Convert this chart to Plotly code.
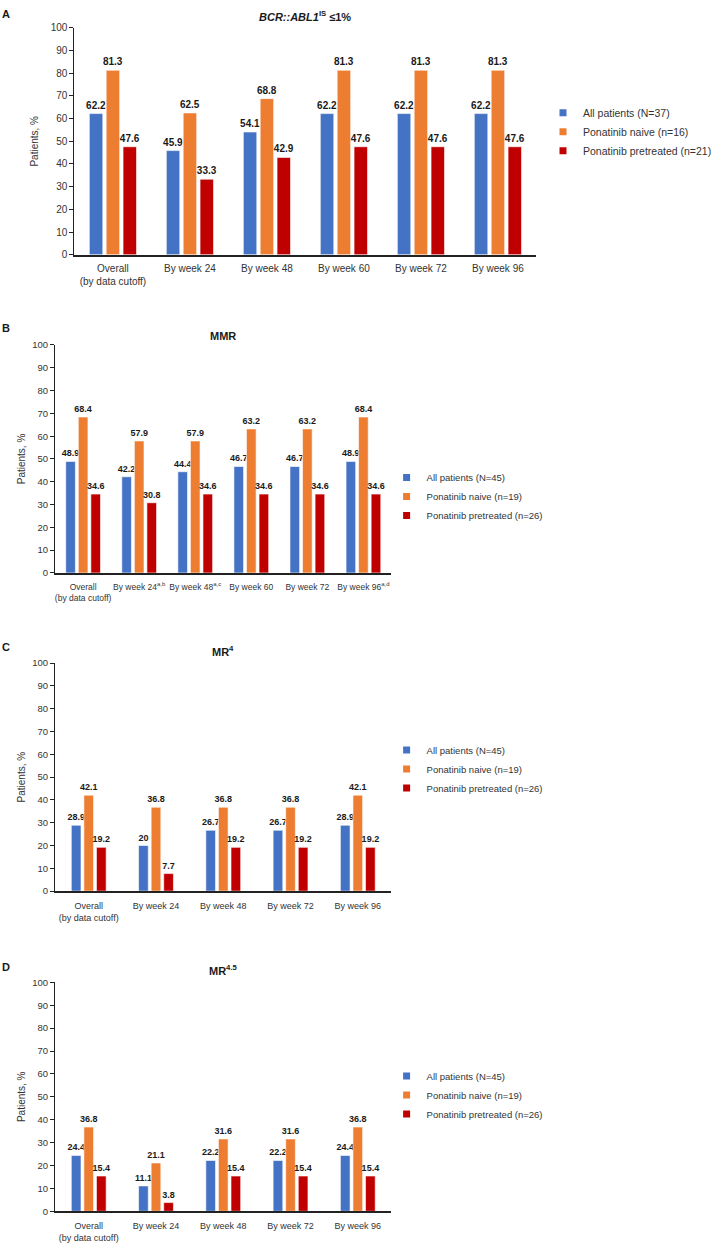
import plotly.graph_objects as go

W, H = 717, 1249

# ---------------- data ----------------
series_names_A = ["All patients (N=37)", "Ponatinib naive (n=16)", "Ponatinib pretreated (n=21)"]
series_names_BCD = ["All patients (N=45)", "Ponatinib naive (n=19)", "Ponatinib pretreated (n=26)"]

cats_A = ["Overall<br>(by data cutoff)", "By week 24", "By week 48", "By week 60", "By week 72", "By week 96"]
A_all = [62.2, 45.9, 54.1, 62.2, 62.2, 62.2]
A_naive = [81.3, 62.5, 68.8, 81.3, 81.3, 81.3]
A_pre = [47.6, 33.3, 42.9, 47.6, 47.6, 47.6]

cats_B = ["Overall<br>(by data cutoff)", "By week 24<sup>a,b</sup>", "By week 48<sup>a,c</sup>",
          "By week 60", "By week 72", "By week 96<sup>a,d</sup>"]
B_all = [48.9, 42.2, 44.4, 46.7, 46.7, 48.9]
B_naive = [68.4, 57.9, 57.9, 63.2, 63.2, 68.4]
B_pre = [34.6, 30.8, 34.6, 34.6, 34.6, 34.6]

cats_C = ["Overall<br>(by data cutoff)", "By week 24", "By week 48", "By week 72", "By week 96"]
C_all = [28.9, 20, 26.7, 26.7, 28.9]
C_naive = [42.1, 36.8, 36.8, 36.8, 42.1]
C_pre = [19.2, 7.7, 19.2, 19.2, 19.2]

cats_D = ["Overall<br>(by data cutoff)", "By week 24", "By week 48", "By week 72", "By week 96"]
D_all = [24.4, 11.1, 22.2, 22.2, 24.4]
D_naive = [36.8, 21.1, 31.6, 31.6, 36.8]
D_pre = [15.4, 3.8, 15.4, 15.4, 15.4]

colors = ["#4472C4", "#ED7D31", "#C00000"]

FONT = "Liberation Sans, Arial, sans-serif"
AXIS = "#222222"

# panel geometry in pixels
panels = [
    dict(key="A", title="<b><i>BCR::ABL1</i><sup>IS</sup> ≤1%</b>", cats=cats_A,
         vals=[A_all, A_naive, A_pre], names=series_names_A, fs=10, xfs=10, yfs=10,
         x0=77, x1=555, yt=22, yb=251, title_y=1, title_anchor="top",
         label_y=0, label_anchor="top",
         leg_x=562, leg_y=93, barw=0.175, step=0.219, standoff=10, xtl=3),
    dict(key="B", title="<b>MMR</b>", cats=cats_B,
         vals=[B_all, B_naive, B_pre], names=series_names_BCD, fs=9, xfs=8.5, yfs=9.5,
         x0=57, x1=405, yt=342, yb=572, title_y=333, title_anchor="middle",
         label_y=325, label_anchor="middle",
         leg_x=400, leg_y=461, barw=0.172, step=0.224, standoff=4, xtl=5),
    dict(key="C", title="<b>MR<sup>4</sup></b>", cats=cats_C,
         vals=[C_all, C_naive, C_pre], names=series_names_BCD, fs=9, xfs=9, yfs=9.5,
         x0=57, x1=405, yt=663, yb=893, title_y=651, title_anchor="middle",
         label_y=647, label_anchor="middle",
         leg_x=400, leg_y=736, barw=0.144, step=0.187, standoff=4, xtl=5),
    dict(key="D", title="<b>MR<sup>4.5</sup></b>", cats=cats_D,
         vals=[D_all, D_naive, D_pre], names=series_names_BCD, fs=9, xfs=9, yfs=9.5,
         x0=57, x1=405, yt=985, yb=1216, title_y=973, title_anchor="middle",
         label_y=970, label_anchor="middle",
         leg_x=400, leg_y=1065, barw=0.144, step=0.187, standoff=4, xtl=5),
]

def px_x(p):
    return p / W

def px_y(p):
    return 1 - p / H

fig = go.Figure()
layout = {}
annotations = []

for i, p in enumerate(panels):
    n = i + 1
    xa = "x" if n == 1 else f"x{n}"
    ya = "y" if n == 1 else f"y{n}"
    leg = "legend" if n == 1 else f"legend{n}"
    fs = p["fs"]
    for j in range(3):
        off = (j - 1) * p["step"] - p["barw"] / 2
        fig.add_trace(go.Bar(
            x=p["cats"], y=p["vals"][j], name=p["names"][j],
            marker=dict(color=colors[j], line=dict(color="white", width=0.6)),
            width=p["barw"], offset=off,
            text=p["vals"][j], texttemplate="<b>%{y}</b>", textposition="outside",
            constraintext="none",
            textfont=dict(family=FONT, size=fs, color="#1a1a1a"),
            cliponaxis=False,
            xaxis=xa, yaxis=ya, showlegend=False,
        ))
    # legend-only entries with small square swatches
    for j in range(3):
        fig.add_trace(go.Scatter(
            x=[p["cats"][0]], y=[None], mode="markers", name=p["names"][j],
            marker=dict(symbol="square", size=7, color=colors[j]),
            xaxis=xa, yaxis=ya, legend=leg, showlegend=True, hoverinfo="skip",
        ))
    xk = "xaxis" if n == 1 else f"xaxis{n}"
    yk = "yaxis" if n == 1 else f"yaxis{n}"
    layout[xk] = dict(
        domain=[px_x(p["x0"]), px_x(p["x1"])], anchor=ya, type="category",
        showline=True, linecolor=AXIS, linewidth=1.8,
        ticks="outside", ticklen=p["xtl"], tickcolor="rgba(0,0,0,0)",
        showgrid=False, zeroline=False, tickangle=0,
        tickfont=dict(family=FONT, size=p["xfs"], color="#333333"),
    )
    layout[yk] = dict(
        domain=[px_y(p["yb"]), px_y(p["yt"])], anchor=xa, range=[0, 100],
        dtick=10, showline=True, linecolor=AXIS, linewidth=1.2,
        ticks="outside", ticklen=4, tickcolor=AXIS,
        showgrid=False, zeroline=False,
        tickfont=dict(family=FONT, size=p["yfs"], color="#333333"),
        title=dict(text="Patients, %", font=dict(family=FONT, size=10, color="#333333"),
                   standoff=p["standoff"]),
    )
    layout[leg] = dict(
        x=px_x(p["leg_x"]), y=px_y(p["leg_y"]), xanchor="left", yanchor="top",
        font=dict(family=FONT, size=fs + 0.5, color="#333333"),
        bgcolor="rgba(0,0,0,0)", itemclick=False, tracegroupgap=0,
    )
    annotations.append(dict(
        text=p["title"], x=px_x((p["x0"] + p["x1"]) / 2), y=px_y(p["title_y"]),
        xref="paper", yref="paper", showarrow=False, xanchor="center",
        yanchor=p["title_anchor"],
        font=dict(family=FONT, size=11, color="#1a1a1a"),
    ))
    annotations.append(dict(
        text=f"<b>{p['key']}</b>", x=px_x(0), y=px_y(p["label_y"]),
        xref="paper", yref="paper", showarrow=False, xanchor="left",
        yanchor=p["label_anchor"],
        font=dict(family=FONT, size=11, color="#1a1a1a"),
    ))

fig.update_layout(
    width=W, height=H,
    margin=dict(l=0, r=0, t=0, b=0),
    paper_bgcolor="white", plot_bgcolor="white",
    annotations=annotations,
    **layout,
)

fig.write_html("out.html", config={"displayModeBar": False},
               post_script="document.body.style.margin='0';")
